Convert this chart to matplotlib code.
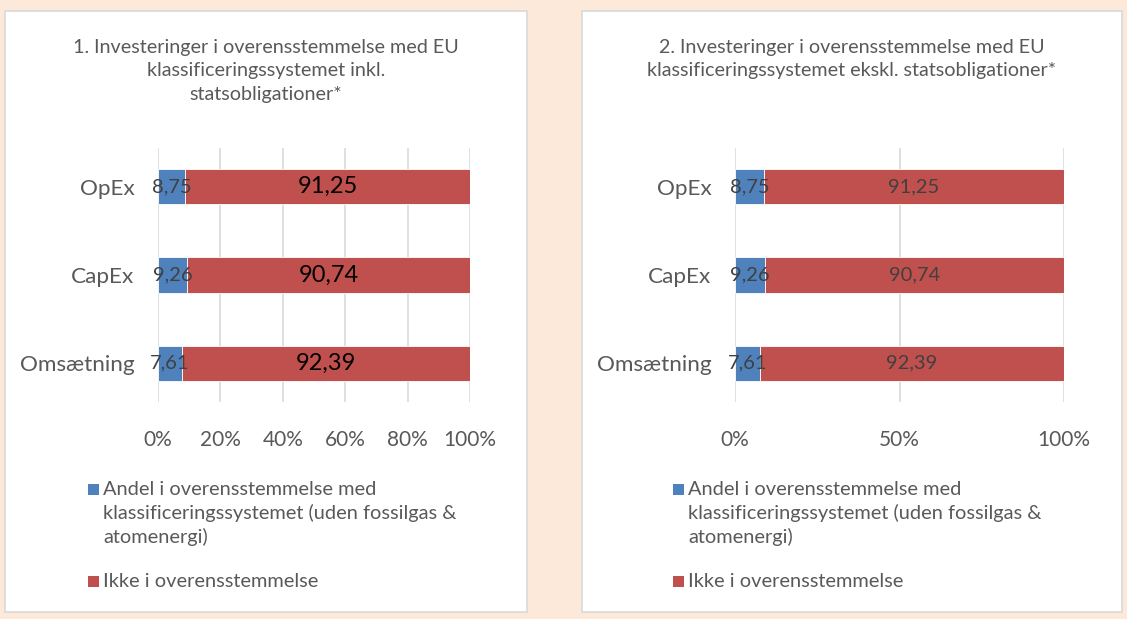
import matplotlib
matplotlib.use("Agg")
import matplotlib.pyplot as plt
from matplotlib.patches import Rectangle

plt.rcParams['font.family'] = ['Lato', 'DejaVu Sans']

categories = ["Omsætning", "CapEx", "OpEx"]
aligned = [7.61, 9.26, 8.75]
not_aligned = [92.39, 90.74, 91.25]
series_names = ["Andel i overensstemmelse med\nklassificeringssystemet (uden fossilgas &\natomenergi)",
                "Ikke i overensstemmelse"]
titles = ["1. Investeringer i overensstemmelse med EU\nklassificeringssystemet inkl.\nstatsobligationer*",
          "2. Investeringer i overensstemmelse med EU\nklassificeringssystemet ekskl. statsobligationer*"]
ticks_left = [0, 20, 40, 60, 80, 100]
ticks_right = [0, 50, 100]

BLUE = "#4F81BD"
RED = "#C0504D"
GRAY = "#595959"
W, H = 1127, 619

fig = plt.figure(figsize=(W / 100, H / 100), dpi=100)
fig.patch.set_facecolor("#FCE9DA")


def fx(px):
    return px / W


def fy(py):
    return 1 - py / H


# panel boxes
for (x0, x1) in [(5, 527), (582, 1122)]:
    fig.patches.append(Rectangle((fx(x0), fy(612)), fx(x1 - x0), (612 - 11) / H,
                                 transform=fig.transFigure, facecolor="white",
                                 edgecolor="#D9D9D9", linewidth=1.2, zorder=-5))

panels = [
    dict(ax_x=(158, 470), ticks=ticks_left, title=titles[0], tcx=266,
         lab_big=True, leg_x=88),
    dict(ax_x=(735, 1064), ticks=ticks_right, title=titles[1], tcx=852,
         lab_big=False, leg_x=673),
]

ax_top, ax_bot = 148, 402
for p in panels:
    x0, x1 = p["ax_x"]
    ax = fig.add_axes([fx(x0), fy(ax_bot), fx(x1 - x0), (ax_bot - ax_top) / H])
    ax.set_zorder(3)
    ax.set_facecolor("none")
    ypos = list(range(len(categories)))
    ax.barh(ypos, aligned, height=0.4, color=BLUE, edgecolor="white", linewidth=0.6, zorder=3)
    ax.barh(ypos, not_aligned, left=aligned, height=0.4, color=RED, edgecolor="white",
            linewidth=0.6, zorder=3)
    for i in ypos:
        ax.text(aligned[i] / 2, i, f"{aligned[i]:.2f}".replace(".", ","), ha="center",
                va="center", color="#404040", fontsize=14.5, zorder=4)
        ax.text(aligned[i] + not_aligned[i] / 2, i,
                f"{not_aligned[i]:.2f}".replace(".", ","), ha="center", va="center",
                color="black" if p["lab_big"] else "#404040",
                fontsize=17 if p["lab_big"] else 14.5, zorder=4)
    ax.set_xlim(0, 100)
    ax.set_ylim(-0.44, 2.44)
    ax.set_xticks(p["ticks"])
    ax.set_xticklabels([f"{t}%" for t in p["ticks"]])
    ax.set_yticks(ypos)
    ax.set_yticklabels(categories)
    ax.tick_params(axis="x", length=0, pad=20, labelsize=15, labelcolor=GRAY)
    ax.tick_params(axis="y", length=0, pad=17, labelsize=16.2, labelcolor=GRAY)
    ax.grid(axis="x", color="#D9D9D9", linewidth=1.2, zorder=0)
    for s in ax.spines.values():
        s.set_visible(False)
    fig.text(fx(p["tcx"]), fy(39), p["title"], ha="center", va="top", fontsize=14.2,
             color=GRAY, linespacing=1.45)
    # legend
    lx = p["leg_x"]
    for (yy, col, name) in [(489, BLUE, series_names[0]), (581, RED, series_names[1])]:
        fig.patches.append(Rectangle((fx(lx), fy(yy + 6)), fx(11), 11 / H,
                                     transform=fig.transFigure, facecolor=col,
                                     edgecolor="none", zorder=2))
        fig.text(fx(lx + 15), fy(yy - 8), name, ha="left", va="top", fontsize=14.4,
                 color=GRAY, linespacing=1.38)

fig.savefig("out.png", dpi=100, facecolor=fig.get_facecolor())
